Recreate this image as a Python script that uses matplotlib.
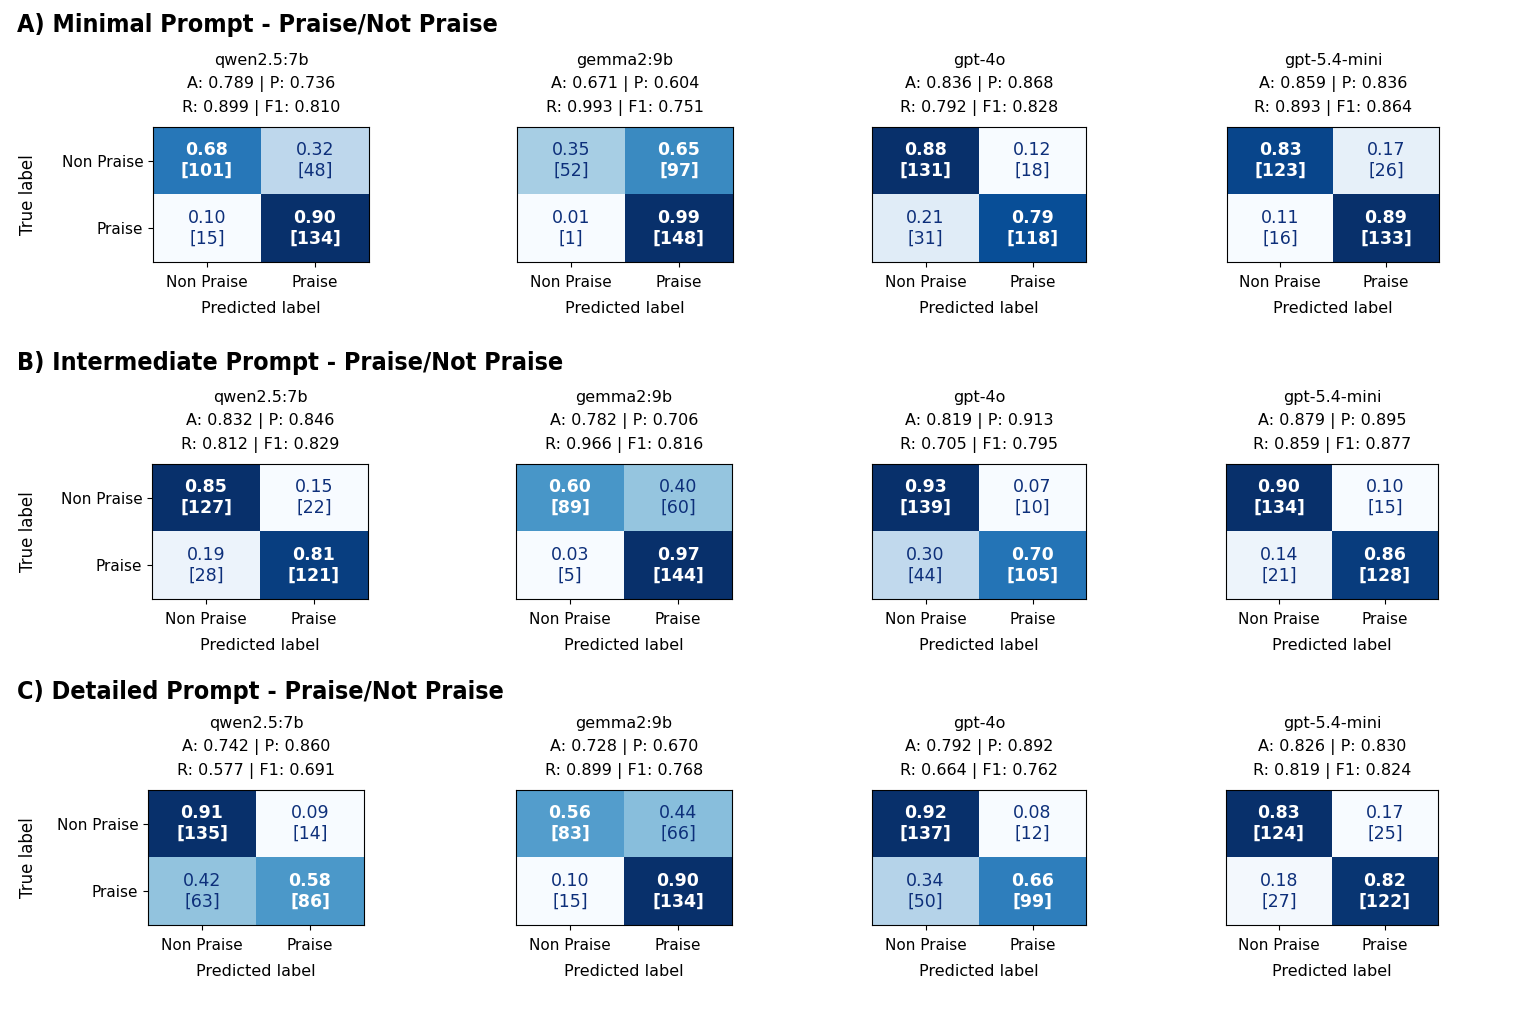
import numpy as np
import matplotlib
matplotlib.use("Agg")
import matplotlib.pyplot as plt

section_titles = ["A) Minimal Prompt - Praise/Not Praise",
                  "B) Intermediate Prompt - Praise/Not Praise",
                  "C) Detailed Prompt - Praise/Not Praise"]
models = ["qwen2.5:7b", "gemma2:9b", "gpt-4o", "gpt-5.4-mini"]
class_labels = ["Non Praise", "Praise"]

counts_A = [[[101, 48], [15, 134]], [[52, 97], [1, 148]],
            [[131, 18], [31, 118]], [[123, 26], [16, 133]]]
counts_B = [[[127, 22], [28, 121]], [[89, 60], [5, 144]],
            [[139, 10], [44, 105]], [[134, 15], [21, 128]]]
counts_C = [[[135, 14], [63, 86]], [[83, 66], [15, 134]],
            [[137, 12], [50, 99]], [[124, 25], [27, 122]]]

metrics_A = [(0.789, 0.736, 0.899, 0.810), (0.671, 0.604, 0.993, 0.751),
             (0.836, 0.868, 0.792, 0.828), (0.859, 0.836, 0.893, 0.864)]
metrics_B = [(0.832, 0.846, 0.812, 0.829), (0.782, 0.706, 0.966, 0.816),
             (0.819, 0.913, 0.705, 0.795), (0.879, 0.895, 0.859, 0.877)]
metrics_C = [(0.742, 0.860, 0.577, 0.691), (0.728, 0.670, 0.899, 0.768),
             (0.792, 0.892, 0.664, 0.762), (0.826, 0.830, 0.819, 0.824)]

all_counts = [counts_A, counts_B, counts_C]
all_metrics = [metrics_A, metrics_B, metrics_C]

W, H = 1536, 1024
fig = plt.figure(figsize=(W / 100, H / 100), dpi=100)
plt.rcParams['font.family'] = ['DejaVu Sans']

col_left = [[153, 517, 872, 1227], [152, 516, 872, 1226], [148, 516, 872, 1226]]
col_w = [216, 216, 214, 212]
row_top = [127, 464, 790]
ax_h = 135
section_y = [25, 363, 692]
ylabel_x = 37

cmap = plt.get_cmap("Blues")

for r in range(3):
    fig.text(17 / W, 1 - section_y[r] / H, section_titles[r], fontsize=18,
             fontweight="bold", fontstretch="condensed", ha="left", va="center")
    for c in range(4):
        cm = np.array(all_counts[r][c], dtype=float)
        norm = cm / cm.sum(axis=1, keepdims=True)
        left = col_left[r][c]
        ax = fig.add_axes([left / W, 1 - (row_top[r] + ax_h) / H,
                           col_w[c] / W, ax_h / H])
        ax.imshow(norm, cmap=cmap, aspect="auto")
        thresh = (norm.min() + norm.max()) / 2
        for i in range(2):
            for j in range(2):
                v = norm[i, j]
                dark = v > thresh
                ax.text(j, i, f"{v:.2f}\n[{int(cm[i, j])}]", ha="center",
                        va="center", fontsize=12.5, linespacing=1.2,
                        color="white" if dark else "#0d2f7a",
                        fontweight="bold" if dark else "normal")
        a, p, rc, f1 = all_metrics[r][c]
        ax.set_title(f"{models[c]}\nA: {a:.3f} | P: {p:.3f}\nR: {rc:.3f} | F1: {f1:.3f}",
                     fontsize=11.5, linespacing=1.65, pad=11)
        ax.set_xticks([0, 1])
        ax.set_xticklabels(class_labels, fontsize=11)
        ax.set_xlabel("Predicted label", fontsize=11.5, labelpad=8)
        ax.set_yticks([0, 1])
        if c == 0:
            ax.set_yticklabels(class_labels, fontsize=11)
            ax.set_ylabel("True label", fontsize=12)
            ax.yaxis.set_label_coords((ylabel_x - left) / col_w[c], 0.5)
        else:
            ax.set_yticklabels([])
            ax.tick_params(axis="y", length=0)
        ax.tick_params(axis="x", pad=6)

fig.savefig("out.png", dpi=100, facecolor="white")
